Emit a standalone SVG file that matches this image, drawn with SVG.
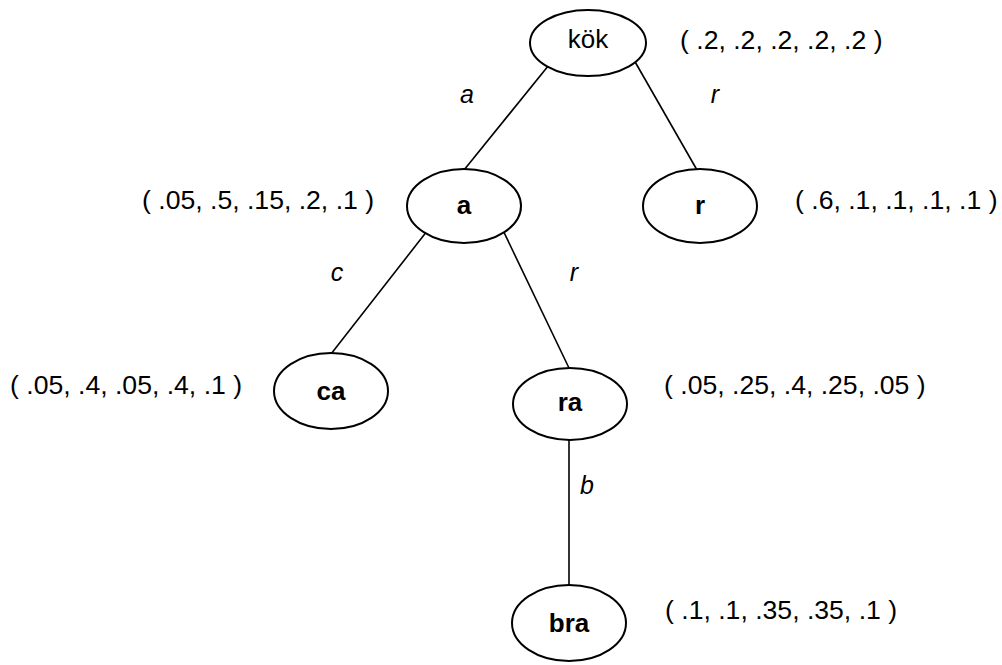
<svg xmlns="http://www.w3.org/2000/svg" width="1002" height="665" viewBox="0 0 1002 665">
  <style>
    .node ellipse { fill: #fff; stroke: #000; stroke-width: 2; }
    .name { font-family: "Liberation Sans", Arial, sans-serif; font-size: 26px; text-anchor: middle; }
    .bold { font-weight: bold; }
    .edge line { stroke: #000; stroke-width: 1.6; }
    .edge-label { font-family: "Liberation Sans", Arial, sans-serif; font-size: 25px; font-style: italic; text-anchor: middle; }
    .dist { font-family: "Liberation Sans", Arial, sans-serif; font-size: 26.6px; }
  </style>
  <rect width="1002" height="665" fill="#fff"/>

  <!-- tree edges, drawn first so the node fills cover their ends -->
  <g id="connectors" class="edge">
    <line x1="553" y1="60" x2="464" y2="170"/>
    <line x1="634" y1="60" x2="697" y2="170"/>
    <line x1="431" y1="226" x2="331" y2="354"/>
    <line x1="499" y1="222" x2="569" y2="368"/>
    <line x1="569" y1="430" x2="569" y2="590"/>
    <text class="edge-label" x="467" y="103">a</text>
    <text class="edge-label" x="715" y="103">r</text>
    <text class="edge-label" x="337" y="281">c</text>
    <text class="edge-label" x="574" y="281">r</text>
    <text class="edge-label" x="587" y="494">b</text>
  </g>

  <g id="node-kok" class="node">
    <ellipse cx="588" cy="43" rx="58" ry="33"/>
    <text class="name" x="588" y="48">kök</text>
    <text class="dist" x="680" y="49">( .2, .2, .2, .2, .2 )</text>
  </g>

  <g id="node-a" class="node">
    <ellipse cx="464" cy="206" rx="57" ry="37"/>
    <text class="name bold" x="464" y="214">a</text>
    <text class="dist" x="142" y="209">( .05, .5, .15, .2, .1 )</text>
  </g>

  <g id="node-r" class="node">
    <ellipse cx="700" cy="206" rx="57" ry="37"/>
    <text class="name bold" x="700" y="214">r</text>
    <text class="dist" x="795" y="209">( .6, .1, .1, .1, .1 )</text>
  </g>

  <g id="node-ca" class="node">
    <ellipse cx="331" cy="391" rx="57" ry="38"/>
    <text class="name bold" x="331" y="400">ca</text>
    <text class="dist" x="10" y="394">( .05, .4, .05, .4, .1 )</text>
  </g>

  <g id="node-ra" class="node">
    <ellipse cx="570" cy="404" rx="57" ry="36"/>
    <text class="name bold" x="570" y="411">ra</text>
    <text class="dist" x="664" y="394">( .05, .25, .4, .25, .05 )</text>
  </g>

  <g id="node-bra" class="node">
    <ellipse cx="569" cy="623" rx="57" ry="38"/>
    <text class="name bold" x="569" y="632">bra</text>
    <text class="dist" x="665" y="619">( .1, .1, .35, .35, .1 )</text>
  </g>
</svg>
